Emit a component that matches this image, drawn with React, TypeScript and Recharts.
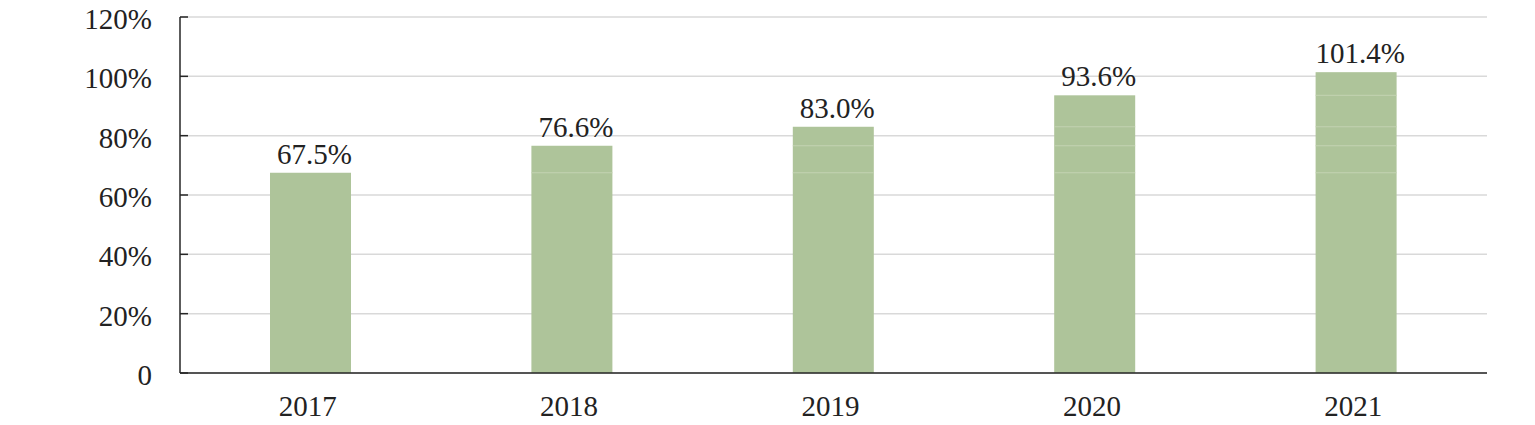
import { BarChart, Bar, XAxis, YAxis, CartesianGrid, LabelList } from 'recharts';

const years = ['2017', '2018', '2019', '2020', '2021'];
const shares = [67.5, 76.6, 83.0, 93.6, 101.4];
const yTicks = [0, 20, 40, 60, 80, 100, 120];

const data = years.map((year, i) => ({ year, share: shares[i] }));

const FONT = 'Liberation Serif, Tinos, serif';
const TEXT = '#222222';
const AXIS = '#262626';
const GRID = '#d9d9d9';
const BAR = '#aec49a';
const GHOST = '#c3d3b2';

const textStyle = { fontFamily: FONT, fontSize: 29 };

const YTick = (props: any) => {
  const { x, y, payload } = props;
  const label = payload.value === 0 ? '0' : `${payload.value}%`;
  return (
    <g>
      <line x1={x + 28} x2={x + 36} y1={y} y2={y} stroke={AXIS} strokeWidth={1.5} />
      <text x={x} y={y} dy={12} textAnchor="end" fill={TEXT} style={textStyle}>
        {label}
      </text>
    </g>
  );
};

// bar with the faint marks of the earlier years' levels
const GhostBar = (props: any) => {
  const { x, y, width, height, index, value } = props;
  const v = Array.isArray(value) ? value[1] : value;
  const ppu = v ? height / v : 0;
  const base = y + height;
  return (
    <g>
      <rect x={x} y={y} width={width} height={height} fill={BAR} />
      {shares.slice(0, index).map((s, j) => (
        <line key={j} x1={x} x2={x + width} y1={base - s * ppu} y2={base - s * ppu} stroke={GHOST} strokeWidth={1} />
      ))}
    </g>
  );
};

export default function App() {
  return (
    <div style={{ position: 'absolute', left: 0, top: 0, width: 1535, height: 425, background: '#fff' }}>
      <BarChart width={1535} height={425} data={data} margin={{ top: 17, right: 48, bottom: 0, left: 0 }}>
        <CartesianGrid vertical={false} stroke={GRID} strokeWidth={1.5} />
        <XAxis
          dataKey="year"
          height={52}
          tickLine={false}
          tickSize={0}
          tickMargin={22}
          axisLine={{ stroke: AXIS, strokeWidth: 1.5 }}
          tick={{ fill: TEXT, style: textStyle, dx: -3 }}
        />
        <YAxis
          width={180}
          domain={[0, 120]}
          ticks={yTicks}
          interval={0}
          tickLine={false}
          tickSize={0}
          tickMargin={28}
          axisLine={{ stroke: AXIS, strokeWidth: 1.5 }}
          tick={<YTick />}
        />
        <YAxis
          yAxisId="right"
          orientation="right"
          width={0}
          domain={[0, 120]}
          tick={false}
          tickLine={false}
          axisLine={{ stroke: GRID, strokeWidth: 1.5 }}
        />
        <Bar dataKey="share" barSize={81} shape={<GhostBar />} isAnimationActive={false}>
          <LabelList
            dataKey="share"
            position="top"
            offset={9}
            dx={4}
            formatter={(v: any) => `${Number(v).toFixed(1)}%`}
            fill={TEXT}
            style={textStyle}
          />
        </Bar>
      </BarChart>
    </div>
  );
}
